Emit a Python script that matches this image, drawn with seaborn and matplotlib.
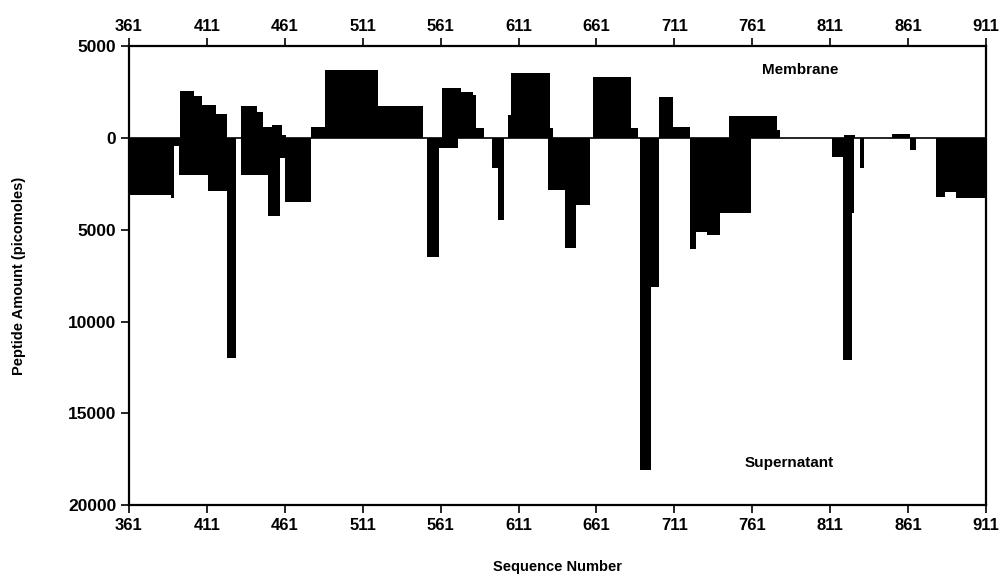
import numpy as np
import pandas as pd
import matplotlib
matplotlib.use("Agg")
import matplotlib.pyplot as plt
from matplotlib.ticker import FuncFormatter
import seaborn as sns

# Membrane peptides: sequence start, sequence end, amount (picomoles)
mem_start = [394, 403, 408, 417, 433, 443, 447, 453, 459, 478, 487, 521,
             562, 574, 582, 584, 604, 606, 631, 659, 683, 701, 710, 746,
             777, 820, 851]
mem_end = [403, 408, 417, 424, 443, 447, 453, 459, 462, 487, 521, 550,
           574, 582, 584, 589, 606, 631, 633, 683, 688, 710, 721, 777,
           779, 827, 862]
mem_amount = [2580, 2290, 1800, 1310, 1760, 1430, 620, 710, 160, 580, 3700,
              1740, 2700, 2520, 2340, 530, 1250, 3530, 530, 3340, 530, 2220,
              620, 1200, 440, 170, 200]

# Supernatant peptides: sequence start, sequence end, amount (picomoles)
sup_start = [361, 388, 390, 393, 412, 424, 433, 450, 458, 461, 552, 560,
             594, 598, 630, 641, 648, 689, 696, 721, 725, 732, 740, 812,
             819, 825, 830, 862, 879, 885, 892]
sup_end = [388, 390, 393, 412, 424, 430, 450, 458, 461, 478, 560, 572,
           598, 602, 641, 648, 657, 696, 701, 725, 732, 740, 760, 819,
           825, 826, 833, 866, 885, 892, 911]
sup_amount = [3100, 3270, 430, 2020, 2870, 12000, 2020, 4250, 1100, 3500,
              6500, 560, 1650, 4470, 2830, 6000, 3650, 18100, 8100, 6050,
              5100, 5290, 4070, 1030, 12100, 4100, 1630, 650, 3200, 2920,
              3290]

x_ticks = [361, 411, 461, 511, 561, 611, 661, 711, 761, 811, 861, 911]
y_ticks = [5000, 0, -5000, -10000, -15000, -20000]


# Turn a list of segments into a frame for histplot
def build_frame(starts, ends, amounts, sign):
    data = pd.DataFrame({"start": starts, "end": ends, "amount": amounts})
    data["mid"] = (data["start"] + data["end"]) / 2
    data["weight"] = sign * data["amount"]
    bins = sorted(set(starts) | set(ends))
    return data, bins


def plot_data():
    sns.set_theme(style="white")
    plt.rcParams["font.family"] = ["Liberation Sans", "DejaVu Sans"]
    plt.rcParams["font.weight"] = "bold"
    plt.rcParams["text.color"] = "black"
    plt.rcParams["axes.labelcolor"] = "black"
    plt.rcParams["xtick.color"] = "black"
    plt.rcParams["ytick.color"] = "black"

    fig = plt.figure(figsize=(10.02, 5.76), dpi=100)
    ax = fig.add_axes([0.1287, 0.123, 0.8553, 0.797])

    membrane, mem_bins = build_frame(mem_start, mem_end, mem_amount, 1)
    supernatant, sup_bins = build_frame(sup_start, sup_end, sup_amount, -1)

    sns.histplot(data=membrane, x="mid", weights="weight", bins=mem_bins,
                 element="bars", color="black", alpha=1, linewidth=0, ax=ax)
    sns.histplot(data=supernatant, x="mid", weights="weight", bins=sup_bins,
                 element="bars", color="black", alpha=1, linewidth=0, ax=ax)

    ax.axhline(0, color="black", linewidth=1.2)
    ax.set_xlim(361, 911)
    ax.set_ylim(-20000, 5000)
    ax.set_xticks(x_ticks)
    ax.set_yticks(y_ticks)
    ax.yaxis.set_major_formatter(FuncFormatter(lambda v, p: f"{abs(int(v))}"))

    ax.tick_params(axis="x", top=True, labeltop=True, bottom=True,
                   direction="out", length=6, width=1.2, labelsize=12,
                   pad=3)
    ax.tick_params(axis="y", left=True, direction="out", length=6,
                   width=1.2, labelsize=12.5, pad=3)
    for spine in ax.spines.values():
        spine.set_color("black")
        spine.set_linewidth(1.6)

    ax.set_xlabel("Sequence Number", fontsize=10.5, fontweight="bold",
                  labelpad=20)
    ax.set_ylabel("Peptide Amount (picomoles)", fontsize=10.5,
                  fontweight="bold", labelpad=30)

    ax.text(792, 3700, "Membrane", fontsize=11, fontweight="bold",
            ha="center", va="center")
    ax.text(785, -17700, "Supernatant", fontsize=11, fontweight="bold",
            ha="center", va="center")

    fig.savefig("out.png", dpi=100)


def main():
    plot_data()


if __name__ == "__main__":
    main()
